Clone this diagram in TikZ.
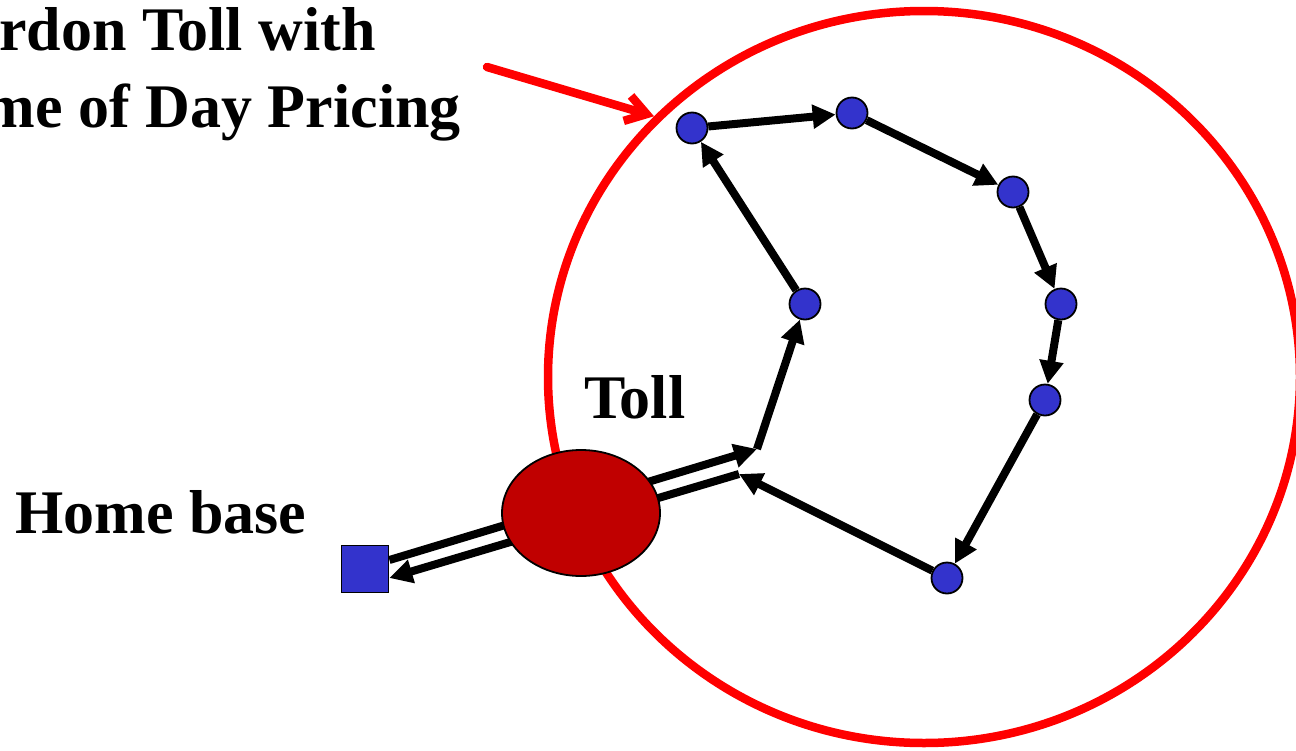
\documentclass[tikz,border=0pt]{standalone}
\usepackage{fontspec}
\setmainfont{Liberation Serif}
\usetikzlibrary{shapes}
\usetikzlibrary{positioning}
\usetikzlibrary{arrows.meta}
\definecolor{stopblue}{RGB}{51,51,204}
\definecolor{tollred}{RGB}{192,0,0}
\tikzset{
    mynodeb/.style = {circle, line width=1.8pt, draw=black, fill=stopblue, minimum size=31pt, inner sep=0pt},
    mynodes/.style = {rectangle, line width=1.8pt, draw=black, fill=stopblue, minimum size=47pt, inner sep=0pt},
    mynoder/.style = {ellipse, line width=1.8pt, draw=black, fill=tollred, minimum width=158pt, minimum height=126pt, inner sep=0pt},
    mylabel/.style = {inner sep=0pt, font=\fontsize{62}{74}\selectfont\bfseries, text=black},
    edgen/.style = {-{Triangle[length=23pt,width=23pt]}, line width=8pt, black}, % trip
    edger/.style = {line width=8.5pt, red}, % cordon
    edgerb/.style = {-{Straight Barb[length=20pt,width=26pt]}, line width=8.5pt, red, line cap=round, line join=round} % pointer
}

\begin{document}
\begin{tikzpicture}[x=1pt, y=-1pt]
  \useasboundingbox (0,0) rectangle (1296,750);
  \clip (0,0) rectangle (1296,750);
  % cordon ring
  \node[edger, ellipse, draw, minimum width=752pt, minimum height=732pt, inner sep=0pt] (cordon) at (924,377) {};
  \coordinate (tail) at (487,67);
  \draw[edgerb] (tail) -- (cordon.136);

  % stops
  \node[mynodeb] (a) at (805,304) {};
  \node[mynodeb] (b) at (692,128) {};
  \node[mynodeb] (c) at (852,113) {};
  \node[mynodeb] (d) at (1013,192) {};
  \node[mynodeb] (e) at (1061,304) {};
  \node[mynodeb] (f) at (1045,400) {};
  \node[mynodeb] (g) at (947,578) {};
  \node[mynodes] (home) at (365,569) {};

  \coordinate (jin) at (757,449);
  \coordinate (jout) at (739,474);
  \draw[edgen] ([yshift=9pt]home.east) -- (jin);
  \draw[edgen] (jin) -- (a);
  \draw[edgen] (a) -- (b);
  \draw[edgen] (b) -- (c);
  \draw[edgen] (c) -- (d);
  \draw[edgen] (d) -- (e);
  \draw[edgen] (e) -- (f);
  \draw[edgen] (f) -- (g);
  \draw[edgen] (g) -- (jout);
  \draw[edgen] (jout) -- ([yshift=-9pt]home.east);

  % toll
  \node[mynoder] (toll) at (581,513) {};

  \node[mylabel, anchor=base west] (tolltext) at (584,418) {Toll};
  \node[mylabel, anchor=base west] (hometext) at (15,533) {Home base};
  \node[mylabel, anchor=base east] (cordon1) at (376,50) {rdon Toll with};
  \node[mylabel, anchor=base east] (cordon2) at (461,127) {me of Day Pricing};
\end{tikzpicture}
\end{document}
